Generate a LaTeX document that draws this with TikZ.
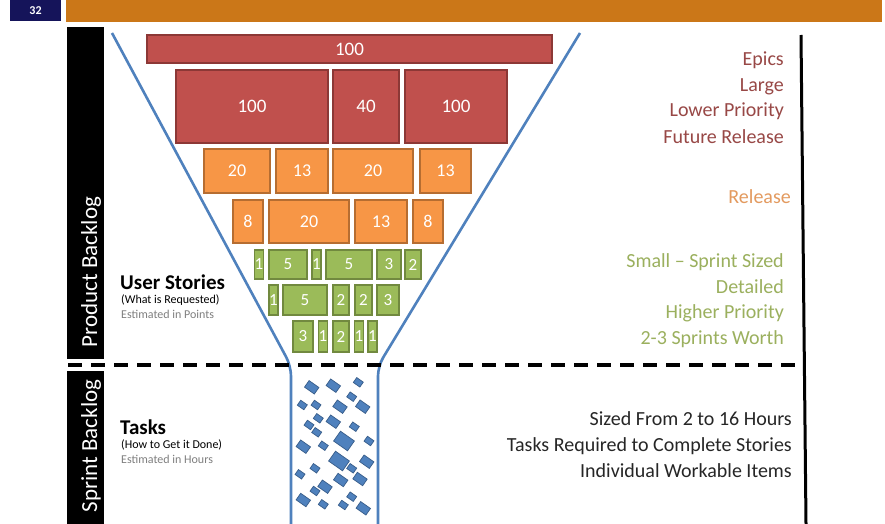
\documentclass[tikz,border=0pt]{standalone}
\usepackage{fontspec}
\setmainfont{Carlito}
\definecolor{cred}{HTML}{C0504D}
\definecolor{credd}{HTML}{8C3836}
\definecolor{corg}{HTML}{F79646}
\definecolor{corgd}{HTML}{B66D31}
\definecolor{cgrn}{HTML}{9BBB59}
\definecolor{cgrnd}{HTML}{71893F}
\definecolor{cblue}{HTML}{4F81BD}
\definecolor{cblued}{HTML}{385D8A}
\definecolor{cnavy}{HTML}{15145A}
\definecolor{cbar}{HTML}{CB7718}
\definecolor{tred}{HTML}{984846}
\definecolor{torg}{HTML}{E39A5F}
\definecolor{tgrn}{HTML}{9BB05E}
\definecolor{tgray}{HTML}{7F7F7F}
\definecolor{tdark}{HTML}{262626}
\newcommand\myfs[1]{\fontsize{#1}{#1}\selectfont}
\newcommand\bx[7]{\node[#2, minimum width={(#5)-(#3)}, minimum height={(#6)-(#4)}] (#1) at ({((#3)+(#5))/2},{((#4)+(#6))/2}) {#7};}
\begin{document}
\begin{tikzpicture}[x=1pt,y=-1pt,
  box/.style={draw, line width=1.3pt, inner sep=0pt, outer sep=0pt, text=white},
  redbox/.style={box, fill=cred, draw=credd, font=\myfs{19}},
  orgbox/.style={box, fill=corg, draw=corgd, font=\myfs{18}},
  grnbox/.style={box, fill=cgrn, draw=cgrnd, font=\myfs{17}},
  tk/.style={draw=cblued, fill=cblue, line width=0.7pt, rotate=-35, inner sep=0pt, outer sep=0pt},
  tks/.style={tk, minimum width=8, minimum height=6},
  tkm/.style={tk, minimum width=12, minimum height=8},
  tkl/.style={tk, minimum width=17, minimum height=12},
  funnel/.style={draw=cblue, line width=2.6pt, rounded corners=10pt},
  sidelabel/.style={text=white, font=\myfs{23}, rotate=90, anchor=base, inner sep=0pt},
  righttext/.style={anchor=base east, font=\myfs{20}, inner sep=0pt},
  lefthead/.style={anchor=base west, font=\bfseries\myfs{21}, inner sep=0pt},
  leftsub/.style={anchor=base west, font=\myfs{12}, inner sep=0pt},
  plain/.style={inner sep=0pt, outer sep=0pt}
]
\useasboundingbox (0,0) rectangle (885,524);
\fill[white] (0,0) rectangle (885,524);

% header
\node[plain, fill=cnavy, minimum width=51, minimum height=21, text=white, font=\bfseries\myfs{12}] (pg) at (35.5,10.5) {32};
\node[plain, fill=cbar, minimum width=816, minimum height=22] (hbar) at (474,11) {};

% side bars
\node[plain, fill=black, minimum width=37, minimum height=332] (pbar) at (85.5,193) {};
\node[plain, fill=black, minimum width=37, minimum height=153] (sbar) at (85.5,447.5) {};
\node[sidelabel] (pbl) at (97,272) {Product Backlog};
\node[sidelabel] (sbl) at (97,446) {Sprint Backlog};

% funnel
\coordinate (fl1) at (112,33);
\coordinate (fl2) at (291,366);
\coordinate (fl3) at (291,524);
\coordinate (fr1) at (580,33);
\coordinate (fr2) at (378,366);
\coordinate (fr3) at (378,524);
\draw[funnel] (fl1) -- (fl2) -- (fl3);
\draw[funnel] (fr1) -- (fr2) -- (fr3);

% red boxes
\bx{r1}{redbox}{147}{35}{552}{63}{100}
\bx{r2a}{redbox}{176}{70}{328}{143}{100}
\bx{r2b}{redbox}{333}{70}{399}{143}{40}
\bx{r2c}{redbox}{405}{70}{507}{143}{100}
% orange boxes
\bx{o1a}{orgbox}{204}{149}{270}{193}{20}
\bx{o1b}{orgbox}{276}{149}{328}{193}{13}
\bx{o1c}{orgbox}{333}{149}{413}{193}{20}
\bx{o1d}{orgbox}{420}{149}{471}{193}{13}
\bx{o2a}{orgbox}{233}{200}{263}{243}{8}
\bx{o2b}{orgbox}{269}{200}{349}{243}{20}
\bx{o2c}{orgbox}{355}{200}{407}{243}{13}
\bx{o2d}{orgbox}{413}{200}{443}{243}{8}
% green boxes
\bx{g1a}{grnbox}{255}{250}{263}{279}{1}
\bx{g1b}{grnbox}{269}{250}{307}{279}{5}
\bx{g1c}{grnbox}{312}{250}{321}{279}{1}
\bx{g1d}{grnbox}{326}{250}{372}{279}{5}
\bx{g1e}{grnbox}{377}{250}{401}{279}{3}
\bx{g1f}{grnbox}{405}{250}{421}{279}{2}
\bx{g2a}{grnbox}{269}{285}{278}{315}{1}
\bx{g2b}{grnbox}{283}{285}{327}{315}{5}
\bx{g2c}{grnbox}{333}{285}{349}{315}{2}
\bx{g2d}{grnbox}{355}{285}{372}{315}{2}
\bx{g2e}{grnbox}{377}{285}{399}{315}{3}
\bx{g3a}{grnbox}{293}{321}{313}{352}{3}
\bx{g3b}{grnbox}{319}{321}{327}{352}{1}
\bx{g3c}{grnbox}{333}{321}{349}{352}{2}
\bx{g3d}{grnbox}{355}{321}{363}{352}{1}
\bx{g3e}{grnbox}{368}{321}{377}{352}{1}

% tasks
\foreach \tx/\ty/\ts [count=\i] in {311.7/387.3/tkm, 333.3/385.7/tkm, 358.3/382.3/tks, 302.3/405/tks, 316/405/tks, 340/406.7/tkm, 351.7/396.7/tks, 362.7/406.7/tkm, 318.3/418.3/tks, 333.3/421.7/tkm, 354.3/426.7/tks, 309/425/tks, 316.7/432.3/tks, 344/441/tkl, 369/441/tks, 303.3/446.7/tkm, 323.3/445.7/tks, 339/461/tkl, 366.7/461.7/tkm, 315/468.3/tks, 351.7/468.3/tks, 300/474.3/tks, 340.7/480/tkm, 360/479/tkm, 325/486.7/tkm, 315/491/tks, 351.7/496.7/tks, 303.3/500/tkm, 323.3/504.3/tks, 343.3/505/tks, 363.3/508.3/tkm}
  \node[\ts] (t\i) at (\tx,\ty) {};

% dashed separator
\coordinate (dl) at (68,365);
\coordinate (dr) at (802,365);
\draw[line width=3.5pt, dash pattern=on 14pt off 9pt] (dl) -- (dr);

% right vertical line
\coordinate (vt) at (801,35);
\coordinate (vb) at (806,524);
\draw[line width=3pt] (vt) -- (vb);

% left texts
\node[lefthead] (us) at (120,289) {User Stories};
\node[leftsub] (us2) at (121,303) {(What is Requested)};
\node[leftsub, text=tgray] (us3) at (121,318) {Estimated in Points};
\node[lefthead] (tsk) at (120,434) {Tasks};
\node[leftsub] (tsk2) at (121,448) {(How to Get it Done)};
\node[leftsub, text=tgray] (tsk3) at (121,463) {Estimated in Hours};

% right texts
\node[righttext, text=tred] (e1) at (784,66) {Epics};
\node[righttext, text=tred] (e2) at (784,92) {Large};
\node[righttext, text=tred] (e3) at (784,117) {Lower Priority};
\node[righttext, text=tred] (e4) at (784,143) {Future Release};
\node[righttext, text=torg] (rl) at (791,203) {Release};
\node[righttext, text=tgrn] (s1) at (784,267) {Small – Sprint Sized};
\node[righttext, text=tgrn] (s2) at (784,293) {Detailed};
\node[righttext, text=tgrn] (s3) at (784,318) {Higher Priority};
\node[righttext, text=tgrn] (s4) at (784,344) {2-3 Sprints Worth};
\node[righttext, text=tdark] (k1) at (792,425) {Sized From 2 to 16 Hours};
\node[righttext, text=tdark] (k2) at (792,451) {Tasks Required to Complete Stories};
\node[righttext, text=tdark] (k3) at (792,477) {Individual Workable Items};
\end{tikzpicture}
\end{document}
